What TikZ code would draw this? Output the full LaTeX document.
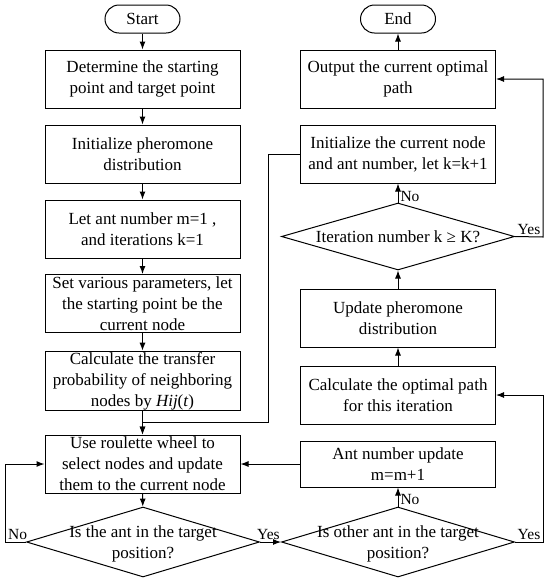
\documentclass[tikz,border=0pt]{standalone}
\usepackage{fontspec}
\setmainfont{Liberation Serif}
\usetikzlibrary{shapes.geometric,arrows.meta}
\newcommand{\dtext}[1]{\makebox[0pt]{\smash{\raisebox{-0.35em}{\begin{tabular}{@{}c@{}}#1\end{tabular}}}}}
\begin{document}
\begin{tikzpicture}[x=1pt,y=-1pt,font=\fontsize{17}{21}\selectfont]
\tikzstyle{box} = [draw, line width=1, minimum width=195, minimum height=58,
                   inner sep=1, align=center]
\tikzstyle{term} = [draw, line width=1, minimum width=75, minimum height=28,
                    rounded corners=14, inner sep=0]
\tikzstyle{decision} = [draw, line width=1, diamond, minimum width=233,
                        minimum height=70, inner sep=0]
\tikzstyle{arrow} = [line width=1, -{Latex[length=8,width=6]}]
\tikzstyle{lbl} = [font=\fontsize{15.5}{17}\selectfont, inner sep=2]
\useasboundingbox (0,0) rectangle (550,587);
% left column
\node [term] (v1) at (142.5,19) {Start};
\node [box] (v2) at (142.5,79) {Determine the starting\\point and target point};
\node [box] (v3) at (142.5,154) {Initialize pheromone\\distribution};
\node [box] (v4) at (142.5,229) {Let ant number m=1 ,\\ and iterations k=1};
\node [box] (v5) at (142.5,303.5) {Set various parameters, let\\the starting point be the\\current node};
\node [box] (v6) at (142.5,381) {Calculate the transfer\\probability of neighboring\\nodes by \textit{Hij}(\textit{t})};
\node [box] (v7) at (142.5,464) {Use roulette wheel to\\select nodes and update\\them to the current node};
\node [decision] (v8) at (143,542) {\dtext{Is the ant in the target\\position?}};
% right column
\node [decision] (v9) at (398,542) {\dtext{Is other ant in the target\\position?}};
\node [box, minimum height=46] (v10) at (398,464) {Ant number update\\m=m+1};
\node [box] (v11) at (398,395) {Calculate the optimal path\\for this iteration};
\node [box] (v12) at (398,318) {Update pheromone\\distribution};
\node [decision, minimum height=67] (v13) at (398,236.5) {\dtext{Iteration number k ≥ K?}};
\node [box] (v14) at (398,154) {Initialize the current node\\and ant number, let k=k+1};
\node [box] (v15) at (398,79) {Output the current optimal\\path};
\node [term] (v16) at (398,19) {End};
% bends
\coordinate (c1) at (268,422);
\coordinate (c2) at (5,542);
\coordinate (c3) at (543,542);
\coordinate (c4) at (543,237);
\draw [arrow] (v1) -- (v2);
\draw [arrow] (v2) -- (v3);
\draw [arrow] (v3) -- (v4);
\draw [arrow] (v4) -- (v5);
\draw [arrow] (v5) -- (v6);
\draw [arrow] (v6) -- (v7);
\draw [arrow] (v14.west) -| (c1) -| (v7.north);
\draw [arrow] (v7) -- (v8);
\draw [arrow] (v8.west) -- node [lbl, above, pos=0.4] {No} (c2) |- (v7.west);
\draw [arrow] (v8.east) -- node [lbl, above, pos=0.4] {Yes} (v9.west);
\draw [arrow] (v9) -- node [lbl, right, pos=0.35] {No} (v10);
\draw [arrow] (v10) -- (v7);
\draw [arrow] (v9.east) -- node [lbl, above] {Yes} (c3) |- (v11.east);
\draw [arrow] (v11) -- (v12);
\draw [arrow] (v12) -- (v13);
\draw [arrow] (v13) -- node [lbl, right, pos=0.3] {No} (v14);
\draw [arrow] (v13.east) -- node [lbl, above] {Yes} (c4) |- (v15.east);
\draw [arrow] (v15) -- (v16);
\end{tikzpicture}
\end{document}
